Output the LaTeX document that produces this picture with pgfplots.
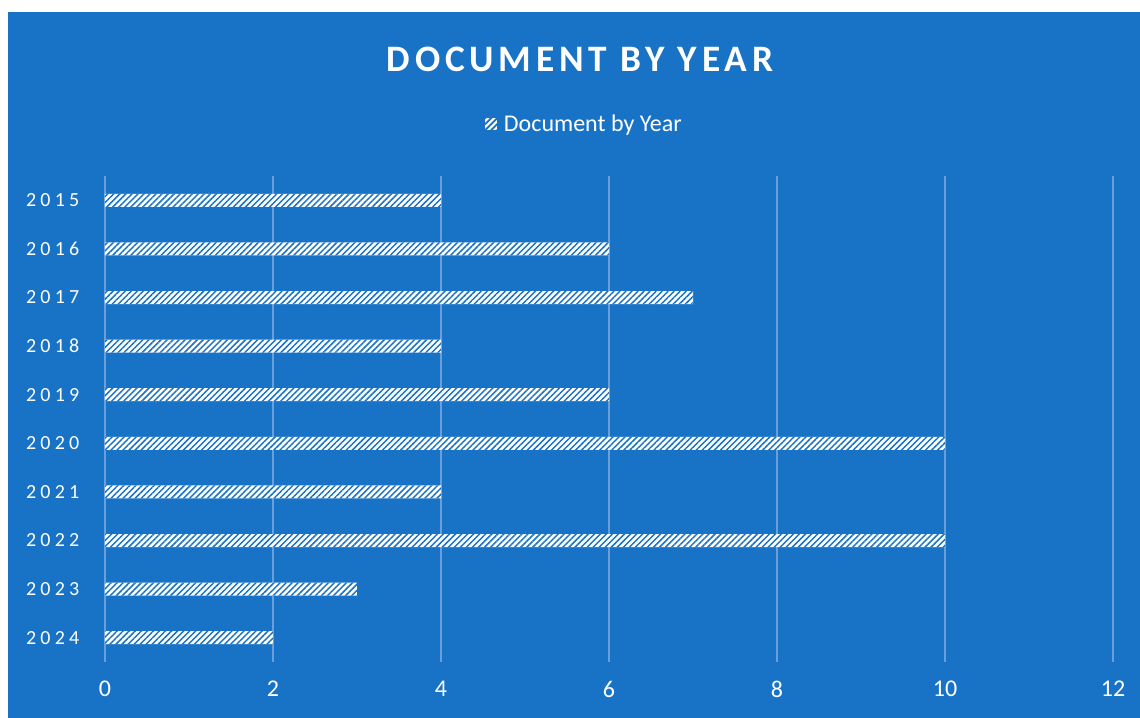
\documentclass[border=0pt]{standalone}
\usepackage{pgfplots}
\pgfplotsset{compat=1.18}
\usepackage{fontspec}
\setmainfont{Carlito}
\usetikzlibrary{patterns.meta}
\definecolor{bgblue}{RGB}{24,115,199}
\definecolor{gridblue}{RGB}{105,160,218}
\begin{document}
\begin{tikzpicture}
\useasboundingbox (0,0) rectangle (855pt,538.5pt);
\fill[white] (0,0) rectangle (855pt,538.5pt);
\fill[bgblue] (6pt,0) rectangle (855pt,529.5pt);
\node[text=white, font={\fontsize{28}{34}\selectfont\bfseries\addfontfeature{LetterSpace=13}}] at (435pt,494pt) {DOCUMENT BY YEAR};
\begin{axis}[
  at={(78.75pt,42pt)}, anchor=south west,
  scale only axis, width=756pt, height=364.5pt,
  xbar, bar width=9.75pt,
  xmin=0, xmax=12, xtick={0,2,4,6,8,10,12},
  ymin=-0.5, ymax=9.5, y dir=reverse,
  ytick={0,1,2,3,4,5,6,7,8,9},
  yticklabels={2015,2016,2017,2018,2019,2020,2021,2022,2023,2024},
  axis line style={draw=none},
  tick style={draw=none},
  xmajorgrids, major grid style={gridblue, line width=1pt},
  /pgf/number format/assume math mode=true,
  xticklabel style={text=white, font=\fontsize{18}{22}\selectfont, yshift=-11pt},
  yticklabel style={text=white, font={\fontsize{15}{18}\selectfont\addfontfeature{LetterSpace=21}}, xshift=-11.5pt},
  legend style={at={(0.476,1.107)}, anchor=center, draw=none, fill=none, text=white, font=\fontsize{18}{22}\selectfont, legend cell align=left},
  legend image code/.code={
    \fill[white] (0pt,-4.5pt) rectangle (9pt,4.5pt);
    \fill[pattern={Lines[angle=45,distance=3.2pt,line width=1.1pt]}, pattern color=bgblue] (0pt,-4.5pt) rectangle (9pt,4.5pt);
    \path (12pt,0pt);
  },
]
\addplot[draw=none, fill=white, postaction={pattern={Lines[angle=45,distance=3.2pt,line width=1.1pt]}, pattern color=bgblue}]
  coordinates {(4,0) (6,1) (7,2) (4,3) (6,4) (10,5) (4,6) (10,7) (3,8) (2,9)};
\addlegendentry{Document by Year}
\end{axis}
\end{tikzpicture}
\end{document}
